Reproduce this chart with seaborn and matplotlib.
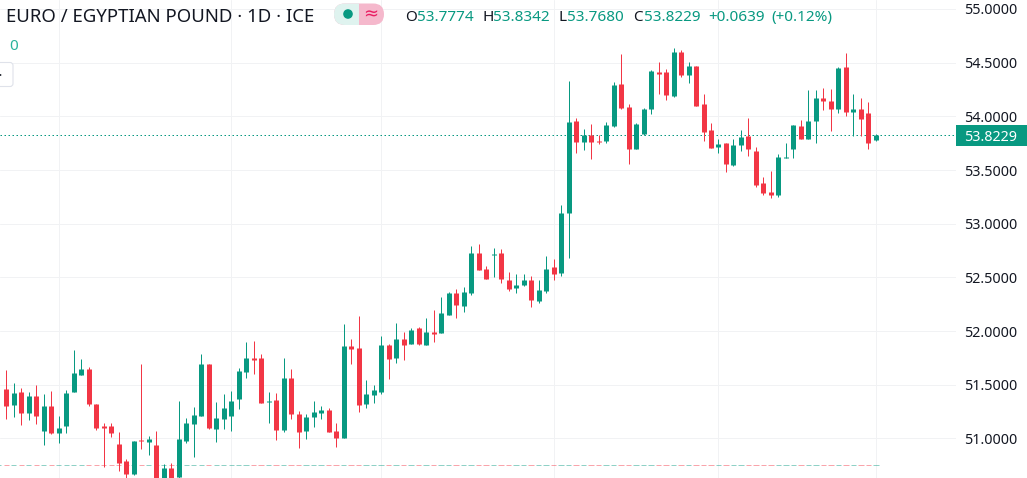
import numpy as np
import pandas as pd
import seaborn as sns
import matplotlib.pyplot as plt
from matplotlib.patches import Circle, FancyBboxPatch, Rectangle
from matplotlib.transforms import blended_transform_factory

opens = [
    51.442, 51.461, 51.312, 51.433, 51.237, 51.395, 51.069, 51.302, 51.051, 51.116,
    51.433, 51.591, 51.647, 51.321, 51.116, 51.116, 50.948, 50.790, 50.669, 50.986,
    50.967, 50.939, 50.600, 50.725, 50.641, 50.976, 51.135, 51.209, 51.693, 51.088,
    51.181, 51.210, 51.368, 51.619, 51.750, 51.750, 51.340, 51.359, 51.079, 51.563,
    51.228, 51.070, 51.200, 51.237, 51.265, 51.070, 51.005, 51.861, 51.843, 51.321,
    51.405, 51.433, 51.871, 51.750, 51.927, 51.880, 52.029, 51.871, 51.992, 51.982,
    52.150, 52.355, 52.234, 52.354, 52.727, 52.578, 52.708, 52.727, 52.475, 52.401,
    52.429, 52.475, 52.280, 52.373, 52.596, 52.541, 53.099, 53.956, 53.760, 53.825,
    53.769, 53.769, 53.909, 54.300, 54.086, 53.695, 53.835, 54.067, 54.412, 54.412,
    54.189, 54.598, 54.384, 54.468, 54.114, 53.872, 53.714, 53.751, 53.546, 53.732,
    53.816, 53.676, 53.378, 53.295, 53.267, 53.611, 53.695, 53.909, 53.788, 53.956,
    54.170, 54.142, 54.067, 54.459, 54.040, 54.067, 54.030, 53.7774,
]
closes = [
    51.507, 51.302, 51.423, 51.237, 51.395, 51.209, 51.302, 51.051, 51.097, 51.423,
    51.610, 51.647, 51.321, 51.097, 51.097, 51.051, 50.771, 50.669, 50.976, 50.976,
    50.995, 50.580, 50.725, 50.600, 50.995, 51.144, 51.218, 51.693, 51.097, 51.191,
    51.284, 51.349, 51.629, 51.750, 51.731, 51.331, 51.349, 51.079, 51.563, 51.228,
    51.061, 51.200, 51.247, 51.265, 51.061, 51.005, 51.861, 51.833, 51.312, 51.414,
    51.452, 51.871, 51.740, 51.927, 51.871, 52.010, 51.880, 51.992, 51.973, 52.169,
    52.355, 52.243, 52.364, 52.727, 52.568, 52.485, 52.718, 52.485, 52.392, 52.429,
    52.475, 52.289, 52.382, 52.578, 52.531, 53.099, 53.946, 53.760, 53.825, 53.760,
    53.760, 53.918, 54.291, 54.077, 53.695, 53.928, 54.067, 54.421, 54.393, 54.198,
    54.598, 54.384, 54.468, 54.095, 53.853, 53.704, 53.742, 53.555, 53.732, 53.807,
    53.695, 53.360, 53.285, 53.267, 53.620, 53.620, 53.918, 53.788, 53.956, 54.170,
    54.142, 54.067, 54.449, 54.040, 54.067, 53.974, 53.751, 53.8229,
]
highs = [
    51.600, 51.638, 51.516, 51.470, 51.433, 51.498, 51.414, 51.442, 51.209, 51.451,
    51.824, 51.740, 51.665, 51.321, 51.144, 51.144, 51.060, 50.809, 50.976, 51.693,
    51.023, 51.069, 50.762, 50.771, 51.349, 51.191, 51.293, 51.787, 51.693, 51.340,
    51.414, 51.442, 51.657, 51.899, 51.908, 51.787, 51.433, 51.424, 51.750, 51.647,
    51.256, 51.228, 51.349, 51.303, 51.284, 51.144, 52.066, 51.927, 52.141, 51.545,
    51.498, 51.955, 51.880, 52.076, 51.992, 52.029, 52.038, 52.122, 52.197, 52.318,
    52.364, 52.392, 52.411, 52.792, 52.811, 52.606, 52.773, 52.764, 52.550, 52.531,
    52.531, 52.513, 52.475, 52.699, 52.671, 53.174, 54.328, 53.984, 53.881, 53.928,
    53.825, 53.946, 54.319, 54.580, 54.114, 53.937, 54.077, 54.431, 54.505, 54.440,
    54.636, 54.617, 54.505, 54.468, 54.207, 53.937, 53.788, 53.751, 53.788, 53.872,
    53.984, 53.714, 53.434, 53.490, 53.648, 53.751, 53.918, 53.965, 54.244, 54.244,
    54.263, 54.254, 54.459, 54.589, 54.207, 54.170, 54.133, 53.8342,
]
lows = [
    51.400, 51.181, 51.200, 51.125, 51.172, 51.135, 50.939, 51.042, 50.958, 51.051,
    51.433, 51.591, 51.302, 51.079, 50.734, 51.014, 50.697, 50.632, 50.660, 50.902,
    50.846, 50.500, 50.550, 50.550, 50.620, 50.958, 50.827, 51.209, 51.088, 50.967,
    51.088, 51.070, 51.275, 51.563, 51.601, 51.331, 51.144, 50.986, 51.061, 51.182,
    50.912, 50.995, 51.107, 51.182, 51.061, 50.921, 51.005, 51.694, 51.247, 51.284,
    51.331, 51.414, 51.554, 51.703, 51.731, 51.880, 51.871, 51.871, 51.899, 51.982,
    52.150, 52.122, 52.178, 52.336, 52.568, 52.485, 52.503, 52.448, 52.373, 52.354,
    52.420, 52.224, 52.261, 52.354, 52.475, 52.513, 52.680, 53.658, 53.686, 53.602,
    53.742, 53.751, 53.900, 54.067, 53.555, 53.695, 53.825, 54.021, 54.207, 54.151,
    54.179, 54.365, 54.310, 54.095, 53.769, 53.704, 53.658, 53.481, 53.537, 53.676,
    53.630, 53.341, 53.267, 53.239, 53.248, 53.611, 53.611, 53.788, 53.788, 53.751,
    54.058, 53.863, 54.030, 54.002, 53.816, 53.816, 53.695, 53.7680,
]
price_ticks = [51.0, 51.5, 52.0, 52.5, 53.0, 53.5, 54.0, 54.5, 55.0]
date_grid = [8, 31, 51, 74, 96, 117]
last_price = 53.8229
volume_level = 50.75

title = "EURO / EGYPTIAN POUND · 1D · ICE"
ohlc_parts = [
    ("O", "#131722", 405), ("53.7774", "#089981", 417),
    ("H", "#131722", 482), ("53.8342", "#089981", 493),
    ("L", "#131722", 558), ("53.7680", "#089981", 567),
    ("C", "#131722", 633), ("53.8229", "#089981", 644),
    ("+0.0639", "#089981", 708), ("(+0.12%)", "#089981", 771),
]

GREEN = "#089981"
RED = "#f23645"
GRID = "#f1f2f4"
TEXT = "#131722"
WIDTH, HEIGHT = 1027, 478

sns.set_theme(style="white")
plt.rcParams["font.family"] = ["Noto Sans", "DejaVu Sans"]

df = pd.DataFrame({"day": np.arange(len(opens)), "open": opens, "high": highs,
                   "low": lows, "close": closes})
df["dir"] = np.where(df["close"] >= df["open"], "up", "down")
palette = {"up": GREEN, "down": RED}

fig = plt.figure(figsize=(WIDTH / 100, HEIGHT / 100), dpi=100)
ax = fig.add_axes([0, 0, 956 / WIDTH, 1])

# faint per-day strip along the bottom, same colour as the candle
ax.hlines([volume_level] * len(df), df["day"] - 0.36, df["day"] + 0.36,
          colors=df["dir"].map(palette), linewidth=0.72, alpha=0.45, zorder=1)
ax.axhline(last_price, color=GREEN, linewidth=0.72, linestyle=(0, (1.5, 2.5)), zorder=1.5)

wicks = df.melt(id_vars=["day", "dir"], value_vars=["low", "high"], value_name="price")
bodies = df.melt(id_vars=["day", "dir"], value_vars=["open", "close"], value_name="price")
sns.lineplot(data=wicks, x="day", y="price", hue="dir", units="day", estimator=None,
             palette=palette, linewidth=0.72, legend=False, sort=False,
             solid_capstyle="butt", zorder=2, ax=ax)
sns.lineplot(data=bodies, x="day", y="price", hue="dir", units="day", estimator=None,
             palette=palette, linewidth=3.6, legend=False, sort=False,
             solid_capstyle="butt", zorder=3, ax=ax)

ax.set_xlim(0.16, 127.68)
ax.set_ylim(50.632, 55.083)
ax.set_xlabel("")
ax.set_ylabel("")
ax.set_xticks(date_grid)
ax.set_xticklabels([])
ax.set_yticks(price_ticks)
ax.set_yticklabels([f"{p:.4f}" for p in price_ticks])
ax.yaxis.tick_right()
ax.tick_params(axis="both", length=0)
ax.tick_params(axis="y", pad=5.8, labelsize=10.3, labelcolor=TEXT)
ax.grid(True, color=GRID, linewidth=0.72)
ax.set_axisbelow(True)
sns.despine(ax=ax, left=True, bottom=True, right=True, top=True)

# last price tag on the scale
tag = blended_transform_factory(ax.transAxes, ax.transData)
ax.add_patch(Rectangle((1, last_price - 0.095), 71 / 956, 0.19, transform=tag,
                       facecolor=GREEN, edgecolor="none", clip_on=False, zorder=5))
ax.text(1 + 8 / 956, last_price, f"{last_price:.4f}", transform=tag, color="white",
        fontsize=10.3, va="center_baseline", ha="left", zorder=6)

# header furniture in pixel coordinates
top = fig.add_axes([0, 0, 1, 1])
top.set_xlim(0, WIDTH)
top.set_ylim(HEIGHT, 0)
top.axis("off")
top.patch.set_alpha(0)

top.text(6, 15, title, color=TEXT, fontsize=13.4, va="center_baseline", ha="left")
for label, colour, x in ohlc_parts:
    top.text(x, 15, label, color=colour, fontsize=11, va="center_baseline", ha="left")

pill = FancyBboxPatch((334, 3.5), 50, 21.5, boxstyle="round,pad=0,rounding_size=10.7",
                      facecolor="#f5b8cc", edgecolor="none")
top.add_patch(pill)
left_half = Rectangle((330, 0), 29, 30, facecolor="#dff3ef", edgecolor="none")
top.add_patch(left_half)
left_half.set_clip_path(pill)
top.add_patch(Circle((348, 14), 4.8, facecolor=GREEN, edgecolor="none"))
top.text(371, 14, "≈", color="#e91e63", fontsize=13, va="center", ha="center",
         family=["DejaVu Sans"])

top.text(14, 44, "0", color="#2bb39c", fontsize=11, va="center_baseline", ha="center")
top.add_patch(FancyBboxPatch((-10, 62.5), 23, 24, boxstyle="round,pad=0,rounding_size=3",
                             facecolor="white", edgecolor="#dfe2ea", linewidth=0.8))
top.add_patch(Circle((0.5, 75), 0.9, facecolor=TEXT, edgecolor="none"))

fig.savefig("out.png", dpi=100)
